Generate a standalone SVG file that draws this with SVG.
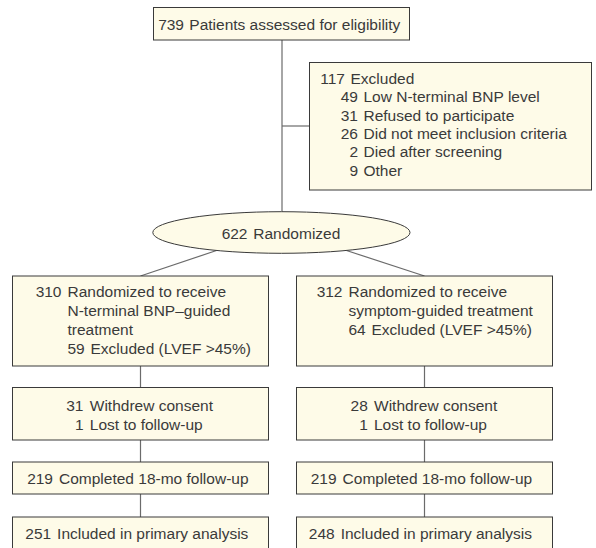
<svg xmlns="http://www.w3.org/2000/svg" width="596" height="548" viewBox="0 0 596 548">
<style>
  .box { fill: #fefbe8; stroke: #3a3a3a; stroke-width: 1; }
  .conn { stroke: #6b6b6b; stroke-width: 1.2; fill: none; }
  text { font-family: "Liberation Sans", Arial, sans-serif; font-size: 15.5px; fill: #3a3a3a; }
  .e { text-anchor: end; }
</style>
<rect width="596" height="548" fill="#ffffff"/>
<g id="connectors">
  <line class="conn" x1="282" y1="40" x2="282" y2="211.7"/>
  <line class="conn" x1="282" y1="126" x2="309.5" y2="126"/>
  <line class="conn" x1="216.5" y1="250.5" x2="140.5" y2="276"/>
  <line class="conn" x1="346.5" y1="250.5" x2="424.5" y2="276"/>
  <line class="conn" x1="140.5" y1="366" x2="140.5" y2="387.5"/>
  <line class="conn" x1="140.5" y1="440" x2="140.5" y2="462"/>
  <line class="conn" x1="140.5" y1="494" x2="140.5" y2="517"/>
  <line class="conn" x1="424.5" y1="366" x2="424.5" y2="387.5"/>
  <line class="conn" x1="424.5" y1="440" x2="424.5" y2="462"/>
  <line class="conn" x1="424.5" y1="494" x2="424.5" y2="517"/>
</g>
<g id="assessed">
  <rect class="box" x="153.5" y="7.5" width="256" height="32.5"/>
  <text class="e" x="184" y="29.5">739</text>
  <text x="189.3" y="29.5">Patients assessed for eligibility</text>
</g>
<g id="excluded">
  <rect class="box" x="309.5" y="62.5" width="282" height="127.5"/>
  <text class="e" x="345" y="84">117</text>
  <text x="350.5" y="84">Excluded</text>
  <text class="e" x="358" y="102.3">49</text>
  <text x="363.5" y="102.3">Low N-terminal BNP level</text>
  <text class="e" x="358" y="120.6">31</text>
  <text x="363.5" y="120.6">Refused to participate</text>
  <text class="e" x="358" y="138.9">26</text>
  <text x="363.5" y="138.9">Did not meet inclusion criteria</text>
  <text class="e" x="358" y="157.2">2</text>
  <text x="363.5" y="157.2">Died after screening</text>
  <text class="e" x="358" y="175.5">9</text>
  <text x="363.5" y="175.5">Other</text>
</g>
<g id="randomized">
  <ellipse class="box" cx="281.4" cy="232.5" rx="128.6" ry="20.8"/>
  <text class="e" x="247.5" y="238.5">622</text>
  <text x="253.3" y="238.5">Randomized</text>
</g>
<g id="ntbnp-arm">
  <rect class="box" x="12.5" y="276" width="256" height="90"/>
  <text class="e" x="61.5" y="297">310</text>
  <text x="67.5" y="297">Randomized to receive</text>
  <text x="67.5" y="316">N-terminal BNP–guided</text>
  <text x="67.5" y="335">treatment</text>
  <text x="67.5" y="354">59</text>
  <text x="90.5" y="354">Excluded (LVEF &gt;45%)</text>
</g>
<g id="symptom-arm">
  <rect class="box" x="296.5" y="276" width="256" height="90"/>
  <text class="e" x="342.5" y="297">312</text>
  <text x="348.5" y="297">Randomized to receive</text>
  <text x="348.5" y="316">symptom-guided treatment</text>
  <text x="348.5" y="335">64</text>
  <text x="371.5" y="335">Excluded (LVEF &gt;45%)</text>
</g>
<g id="withdrew-left">
  <rect class="box" x="12.5" y="387.5" width="256" height="52.5"/>
  <text class="e" x="83.5" y="411">31</text>
  <text x="89.8" y="411">Withdrew consent</text>
  <text class="e" x="83.5" y="429.5">1</text>
  <text x="89.8" y="429.5">Lost to follow-up</text>
</g>
<g id="withdrew-right">
  <rect class="box" x="296.5" y="387.5" width="256" height="52.5"/>
  <text class="e" x="367.8" y="411">28</text>
  <text x="374" y="411">Withdrew consent</text>
  <text class="e" x="367.8" y="429.5">1</text>
  <text x="374" y="429.5">Lost to follow-up</text>
</g>
<g id="completed-left">
  <rect class="box" x="12.5" y="462" width="256" height="32"/>
  <text class="e" x="53" y="484">219</text>
  <text x="59" y="484">Completed 18-mo follow-up</text>
</g>
<g id="completed-right">
  <rect class="box" x="296.5" y="462" width="256" height="32"/>
  <text class="e" x="336.6" y="484">219</text>
  <text x="342.6" y="484">Completed 18-mo follow-up</text>
</g>
<g id="analysis-left">
  <rect class="box" x="12.5" y="517" width="256" height="40"/>
  <text class="e" x="51.2" y="539">251</text>
  <text x="57.1" y="539">Included in primary analysis</text>
</g>
<g id="analysis-right">
  <rect class="box" x="296.5" y="517" width="256" height="40"/>
  <text class="e" x="334.7" y="539">248</text>
  <text x="340.7" y="539">Included in primary analysis</text>
</g>
</svg>
